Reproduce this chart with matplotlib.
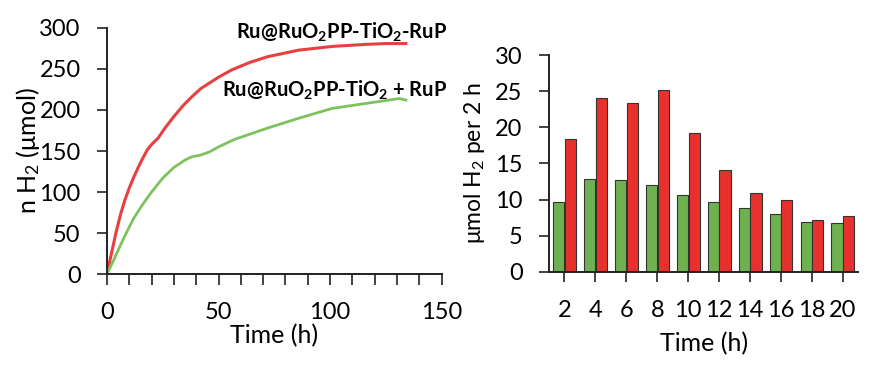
import numpy as np
import matplotlib.pyplot as plt
from matplotlib.ticker import MultipleLocator

plt.rcParams['font.family'] = ['Lato', 'DejaVu Sans']
plt.rcParams['mathtext.fontset'] = 'custom'
plt.rcParams['mathtext.rm'] = 'Lato'
plt.rcParams['mathtext.it'] = 'Lato:italic'
plt.rcParams['mathtext.bf'] = 'Lato:bold'

# left panel: cumulative H2 vs time
t_red = [0, 2, 4, 6, 8, 10, 12, 14, 16, 18, 20, 23, 26, 30, 34, 38, 42, 46, 50, 56,
         64, 72, 86, 101, 116, 125, 134]
n_red = [0, 25, 50, 72, 90, 105, 118, 130, 141, 151, 158, 166, 178, 192, 205, 216, 226,
         233, 240, 249, 258, 265, 273, 277.5, 280, 281, 281]
t_green = [0, 3, 6, 9, 12, 16, 20, 25, 30, 35, 38, 42, 46, 50, 57, 72, 86, 101, 116,
           131, 134]
n_green = [0, 17, 35, 52, 68, 85, 100, 117, 130, 139, 143, 145, 149, 155, 164, 178, 190,
           202, 208, 214, 212]

# right panel: H2 per 2 h
hours = ['2', '4', '6', '8', '10', '12', '14', '16', '18', '20']
per2h_green = [9.6, 12.8, 12.7, 12.0, 10.6, 9.7, 8.8, 8.0, 6.9, 6.7]
per2h_red = [18.4, 24.1, 23.4, 25.2, 19.2, 14.1, 10.9, 9.9, 7.2, 7.7]

red = '#e8302c'
green = '#6db24f'
line_red = '#e84040'
line_green = '#7cc25e'
ink = '#222222'

fig = plt.figure(figsize=(8.84, 3.78), dpi=100)

ax1 = fig.add_axes([0.121, 0.275, 0.3786, 0.651])
ax1.plot(t_red, n_red, color=line_red, lw=2.2)
ax1.plot(t_green, n_green, color=line_green, lw=2.0)
ax1.set_xlim(0, 150)
ax1.set_ylim(0, 300)
ax1.set_xticks([0, 50, 100, 150])
ax1.xaxis.set_minor_locator(MultipleLocator(10))
ax1.set_yticks(range(0, 301, 50))
for s in ['top', 'right']:
    ax1.spines[s].set_visible(False)
for s in ['left', 'bottom']:
    ax1.spines[s].set_linewidth(1.4)
    ax1.spines[s].set_color(ink)
ax1.tick_params(axis='x', which='both', direction='out', length=8, width=1.2,
                labelsize=17, pad=12, color=ink)
ax1.tick_params(axis='y', direction='out', length=7, width=1.2, labelsize=17,
                pad=12, color=ink)
ax1.set_xlabel('Time (h)', fontsize=18, labelpad=1)
ax1.set_ylabel('n H$_2$ (μmol)', fontsize=18, labelpad=-2)
ax1.text(152.5, 296, 'Ru@RuO$_\\mathbf{2}$PP-TiO$_\\mathbf{2}$-RuP', ha='right', va='center',
         fontsize=14.5, fontweight='bold', clip_on=False)
ax1.text(152.5, 225, 'Ru@RuO$_\\mathbf{2}$PP-TiO$_\\mathbf{2}$ + RuP', ha='right', va='center',
         fontsize=14.5, fontweight='bold', clip_on=False)

ax2 = fig.add_axes([0.621, 0.281, 0.35, 0.573])
x = np.arange(len(hours))
w = 0.36
ax2.bar(x - w / 2 - 0.01, per2h_green, width=w, color=green, edgecolor='#333333', lw=0.8)
ax2.bar(x + w / 2 + 0.01, per2h_red, width=w, color=red, edgecolor='#333333', lw=0.8)
ax2.set_xlim(-0.5, 9.5)
ax2.set_ylim(0, 30)
ax2.set_xticks(x)
ax2.set_xticklabels(hours)
ax2.set_yticks(range(0, 31, 5))
for s in ['top', 'right']:
    ax2.spines[s].set_visible(False)
for s in ['left', 'bottom']:
    ax2.spines[s].set_linewidth(1.4)
    ax2.spines[s].set_color(ink)
ax2.tick_params(axis='x', direction='out', length=7, width=1.2, labelsize=17, pad=13,
                color=ink)
ax2.tick_params(axis='y', direction='out', length=7, width=1.2, labelsize=17, pad=12,
                color=ink)
ax2.set_xlabel('Time (h)', fontsize=18, labelpad=8)
ax2.set_ylabel('μmol H$_2$ per 2 h', fontsize=16.5, labelpad=6)

fig.savefig('out.png', dpi=100)
